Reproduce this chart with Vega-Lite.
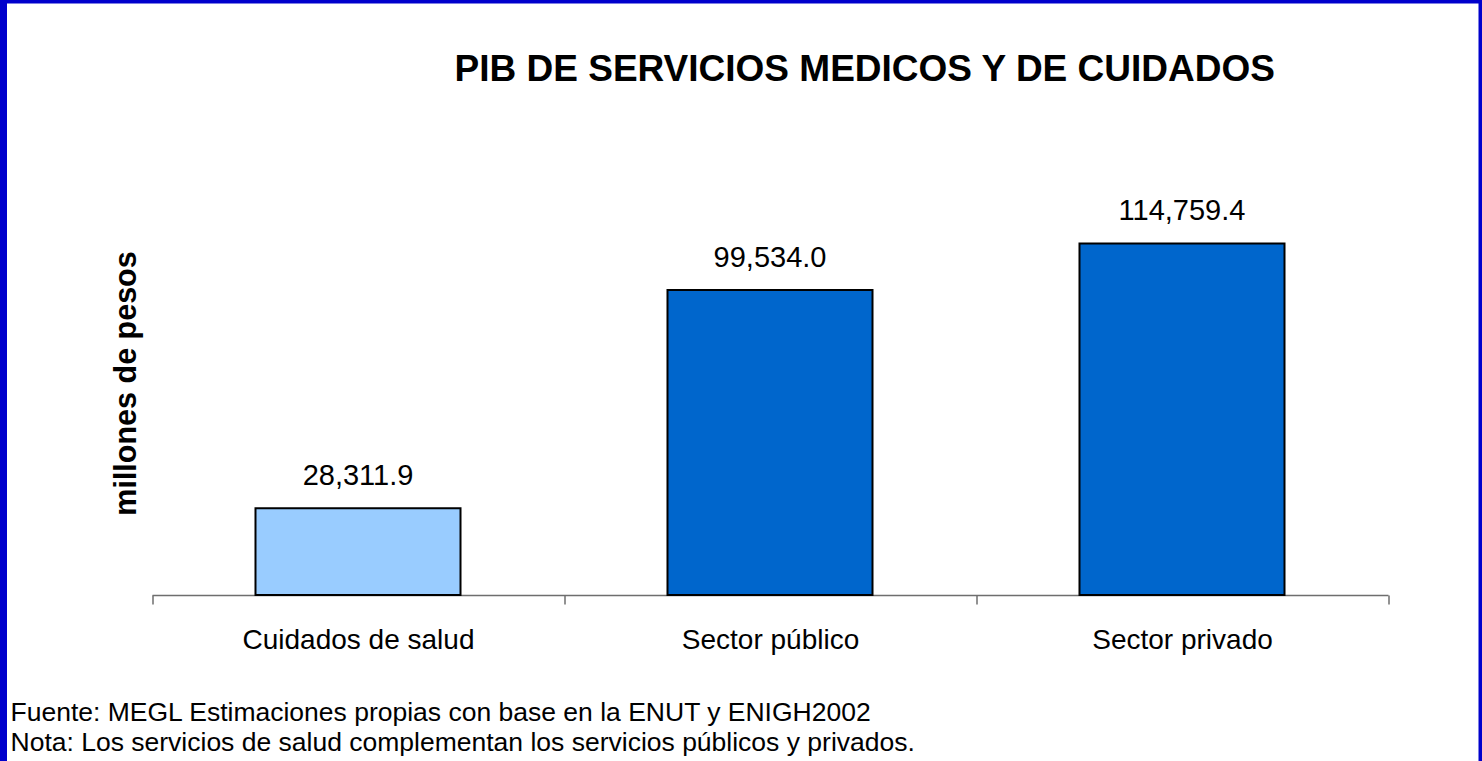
{
  "$schema": "https://vega.github.io/schema/vega-lite/v6.json",
  "width": 1478.5,
  "height": 770,
  "padding": {"left": 3.5, "top": 0, "right": 0, "bottom": 0},
  "autosize": {"type": "none"},
  "background": "white",
  "config": {
    "view": {"stroke": "#0000CC", "strokeWidth": 7},
    "font": "Liberation Sans"
  },
  "title": {
    "text": "PIB DE SERVICIOS MEDICOS Y DE CUIDADOS",
    "font": "Liberation Sans",
    "fontSize": 37,
    "fontWeight": "bold",
    "color": "black",
    "anchor": "middle",
    "frame": "group",
    "baseline": "alphabetic",
    "offset": 0,
    "dx": 122,
    "dy": 118
  },
  "data": {
    "values": [
      {"sector": "Cuidados de salud", "valor": 28311.9},
      {"sector": "Sector público", "valor": 99534.0},
      {"sector": "Sector privado", "valor": 114759.4}
    ]
  },
  "encoding": {
    "x": {
      "field": "sector",
      "type": "nominal",
      "sort": null,
      "scale": {"range": [148.5, 1384.5], "paddingInner": 0, "paddingOuter": 0},
      "axis": {
        "orient": "bottom",
        "offset": -175,
        "tickBand": "extent",
        "labelAngle": 0,
        "labelLimit": 0,
        "labelFont": "Liberation Sans",
        "labelFontSize": 28,
        "labelColor": "black",
        "labelBaseline": "alphabetic",
        "labelPadding": 44,
        "domainColor": "#6e6e6e",
        "domainWidth": 1.5,
        "tickColor": "#6e6e6e",
        "tickWidth": 1.5,
        "tickSize": 9,
        "title": ["Fuente: MEGL Estimaciones propias con base en la ENUT y ENIGH2002", "Nota: Los servicios de salud complementan los servicios públicos y privados."],
        "titleFont": "Liberation Sans",
        "titleFontSize": 26.5,
        "titleFontWeight": "normal",
        "titleColor": "black",
        "titleAlign": "left",
        "titleAnchor": "start",
        "titleBaseline": "alphabetic",
        "titleLineHeight": 30,
        "titleX": 6.5,
        "titleY": 125
      }
    }
  },
  "layer": [
    {
      "mark": {"type": "bar", "width": {"band": 0.4976}, "stroke": "black", "strokeWidth": 2},
      "encoding": {
        "y": {
          "field": "valor",
          "type": "quantitative",
          "scale": {"domain": [-57115, 194191], "nice": false, "zero": false},
          "axis": {
            "orient": "left",
            "domain": false,
            "ticks": false,
            "labels": false,
            "grid": false,
            "title": "millones de pesos",
            "titleFont": "Liberation Sans",
            "titleFontSize": 30.5,
            "titleFontWeight": "bold",
            "titleColor": "black",
            "titleAngle": -90,
            "titleAlign": "center",
            "titleBaseline": "alphabetic",
            "titleX": 131.5,
            "titleY": 383
          }
        },
        "y2": {"datum": 0},
        "color": {
          "field": "sector",
          "type": "nominal",
          "scale": {
            "domain": ["Cuidados de salud", "Sector público", "Sector privado"],
            "range": ["#99CCFF", "#0066CC", "#0066CC"]
          },
          "legend": null
        }
      }
    },
    {
      "mark": {"type": "text", "font": "Liberation Sans", "fontSize": 29, "color": "black", "baseline": "alphabetic", "align": "center", "dy": -23},
      "encoding": {
        "y": {"field": "valor", "type": "quantitative"},
        "text": {"field": "valor", "type": "quantitative", "format": ",.1f"}
      }
    }
  ]
}
